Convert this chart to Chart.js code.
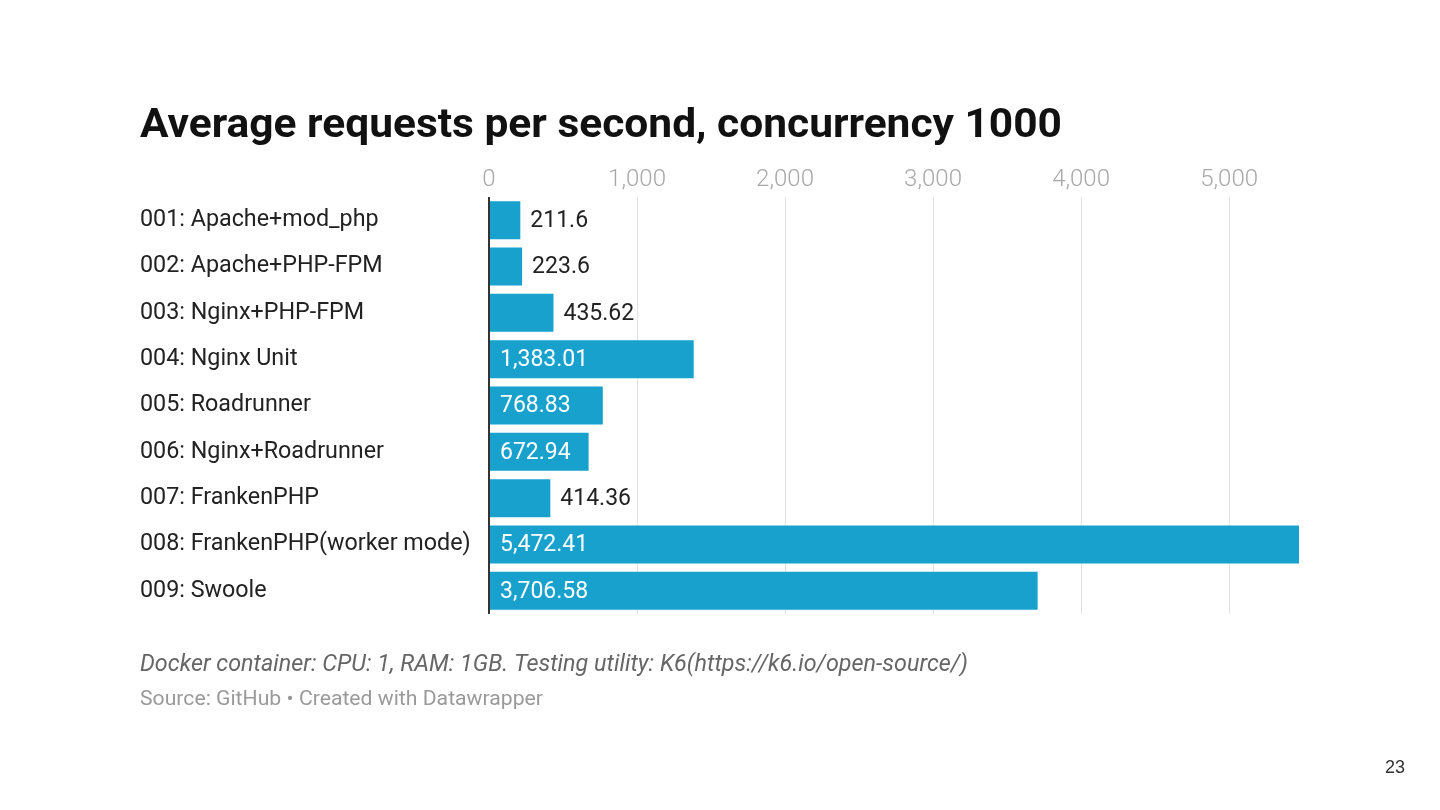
<!DOCTYPE html>
<html>
<head>
<meta charset="utf-8">
<script src="https://cdn.jsdelivr.net/npm/chart.js@4/dist/chart.umd.min.js"></script>
<style>
  html, body { margin: 0; padding: 0; background: #ffffff; }
  #wrap { width: 1440px; height: 810px; position: relative; }
</style>
</head>
<body>
<div id="wrap"><canvas id="c" width="1440" height="810"></canvas></div>
<script>
const categories = [
  "001: Apache+mod_php",
  "002: Apache+PHP-FPM",
  "003: Nginx+PHP-FPM",
  "004: Nginx Unit",
  "005: Roadrunner",
  "006: Nginx+Roadrunner",
  "007: FrankenPHP",
  "008: FrankenPHP(worker mode)",
  "009: Swoole"
];
const requestsPerSecond = [211.6, 223.6, 435.62, 1383.01, 768.83, 672.94, 414.36, 5472.41, 3706.58];
const xTicks = [0, 1000, 2000, 3000, 4000, 5000];
const titleText = "Average requests per second, concurrency 1000";
const noteText = "Docker container: CPU: 1, RAM: 1GB. Testing utility: K6(https://k6.io/open-source/)";
const sourceText = "Source: GitHub \u2022 Created with Datawrapper";
const pageNumber = "23";

const fmt = v => v.toLocaleString('en-US', { maximumFractionDigits: 2 });

function fitText(ctx, txt, x, y, targetW) {
  const w = ctx.measureText(txt).width;
  ctx.save();
  ctx.translate(x, y);
  ctx.scale(targetW / w, 1);
  ctx.fillText(txt, 0, 0);
  ctx.restore();
}

const textPlugin = {
  id: 'texts',
  afterDraw(chart) {
    const ctx = chart.ctx;
    ctx.save();
    ctx.textBaseline = 'alphabetic';
    ctx.textAlign = 'left';
    ctx.fillStyle = '#111111';
    ctx.font = 'bold 40px Roboto';
    fitText(ctx, titleText, 140, 137, 922);
    ctx.fillStyle = '#666666';
    ctx.font = 'italic 23px Roboto';
    fitText(ctx, noteText, 140, 671, 828);
    ctx.fillStyle = '#9a9a9a';
    ctx.font = '21px Roboto';
    fitText(ctx, sourceText, 140, 705, 403);
    ctx.fillStyle = '#333333';
    ctx.font = '18px Arial, "Liberation Sans"';
    ctx.textAlign = 'center';
    ctx.fillText(pageNumber, 1395, 773);
    ctx.restore();
  }
};

const valueLabels = {
  id: 'valueLabels',
  afterDatasetsDraw(chart) {
    const ctx = chart.ctx;
    const meta = chart.getDatasetMeta(0);
    ctx.save();
    ctx.font = '23px Roboto';
    ctx.textBaseline = 'middle';
    ctx.textAlign = 'left';
    meta.data.forEach((bar, i) => {
      const txt = fmt(requestsPerSecond[i]);
      const w = ctx.measureText(txt).width;
      const barW = bar.x - bar.base;
      if (w + 20 < barW) {
        ctx.fillStyle = '#ffffff';
        ctx.fillText(txt, bar.base + 10, bar.y + 1);
      } else {
        ctx.fillStyle = '#222222';
        ctx.fillText(txt, bar.x + 10, bar.y + 1);
      }
    });
    ctx.restore();
  }
};

new Chart(document.getElementById('c'), {
  type: 'bar',
  data: {
    labels: categories,
    datasets: [{
      data: requestsPerSecond,
      backgroundColor: '#18a1cd',
      borderWidth: 0,
      categoryPercentage: 1,
      barPercentage: 0.82
    }]
  },
  options: {
    indexAxis: 'y',
    responsive: false,
    animation: false,
    devicePixelRatio: 1,
    layout: { padding: { left: 140, top: 160, right: 141, bottom: 196 } },
    plugins: { legend: { display: false }, tooltip: { enabled: false }, title: { display: false } },
    scales: {
      x: {
        position: 'top',
        min: 0,
        max: 5472.41,
        afterBuildTicks(scale) { scale.ticks = xTicks.map(v => ({ value: v })); },
        afterFit(scale) { scale.height = 37; },
        border: { display: false },
        grid: {
          drawTicks: false,
          color: c => (c.tick && c.tick.value === 0) ? '#333333' : '#e3e3e3',
          lineWidth: c => (c.tick && c.tick.value === 0) ? 2 : 1
        },
        ticks: {
          padding: 3,
          color: '#a8a8a8',
          font: { family: 'Roboto', size: 24, weight: 300 },
          callback: v => fmt(v)
        }
      },
      y: {
        afterFit(scale) { scale.width = 349; },
        border: { display: false },
        grid: { display: false, drawTicks: false },
        ticks: {
          crossAlign: 'far',
          padding: 0,
          color: '#222222',
          font: { family: 'Roboto', size: 23.3 }
        }
      }
    }
  },
  plugins: [valueLabels, textPlugin]
});
</script>
</body>
</html>
